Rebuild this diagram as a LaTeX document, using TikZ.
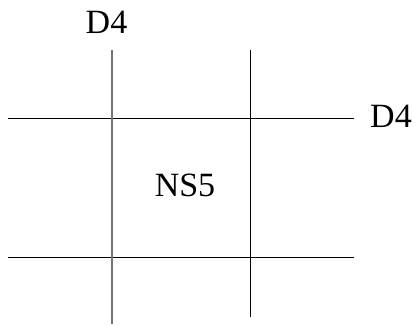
\documentclass[tikz,border=0pt]{standalone}
\usepackage{fontspec}
\setmainfont{Liberation Serif}
\begin{document}
\begin{tikzpicture}[x=1pt,y=-1pt,
  brane/.style={line width=0.9pt,black},
  greybrane/.style={line width=1.3pt,black!55},
  lbl/.style={font=\fontsize{34}{38}\selectfont,anchor=base,inner sep=0pt}]
\useasboundingbox (0,0) rectangle (415,325);
\coordinate (v1t) at (112,50);
\coordinate (v1b) at (112,324);
\coordinate (v2t) at (250,50);
\coordinate (v2b) at (250,317);
\coordinate (h1l) at (8,118.5);
\coordinate (h1r) at (354,118.5);
\coordinate (h2l) at (8,257);
\coordinate (h2r) at (354,257);
\draw[brane] (h1l) -- (h1r);
\draw[brane] (h2l) -- (h2r);
\draw[brane] (v2t) -- (v2b);
\draw[greybrane] (v1t) -- (v1b);
\node[lbl] (d4top) at (106.5,33.3) {D4};
\node[lbl] (d4right) at (391,127.7) {D4};
\node[lbl] (ns5) at (185,196.7) {NS5};
\end{tikzpicture}
\end{document}
